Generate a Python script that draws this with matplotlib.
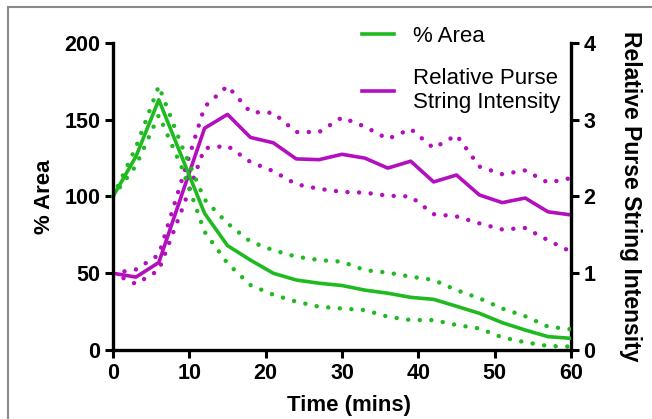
import matplotlib
matplotlib.use("Agg")
import matplotlib.pyplot as plt
from matplotlib.patches import Rectangle

# Time points (minutes)
time = [0, 3, 6, 9, 12, 15, 18, 21, 24, 27, 30, 33, 36, 39, 42, 45, 48, 51, 54, 57, 60]

# % Area: mean with upper / lower bounds
area_mean = [100, 126, 163, 126, 89, 68, 58.6, 50, 45.6, 43.5, 42, 39, 37, 34.3, 33, 28.5, 23.9, 17.8, 13, 8.7, 7.6]
area_upper = [100, 132, 172, 133, 98, 82.5, 70.6, 65, 60.8, 58.6, 57.5, 52, 50.4, 47.8, 45.6, 39, 33.7, 27, 22, 15.2, 13.5]
area_lower = [100, 120, 153, 119, 77, 56.5, 42.3, 36, 31.5, 28.2, 27, 26, 21.7, 19.5, 19.5, 16.3, 14, 8.2, 5, 2.6, 2.2]

# Relative purse string intensity: mean with upper / lower bounds
ps_mean = [1.0, 0.95, 1.14, 2.02, 2.89, 3.07, 2.77, 2.70, 2.49, 2.48, 2.55, 2.50, 2.37, 2.46, 2.19, 2.28, 2.02, 1.92, 1.98, 1.80, 1.76]
ps_upper = [1.0, 1.05, 1.24, 2.21, 3.17, 3.44, 3.10, 3.09, 2.84, 2.84, 3.03, 2.91, 2.75, 2.88, 2.63, 2.80, 2.39, 2.29, 2.34, 2.18, 2.24]
ps_lower = [1.0, 0.86, 1.04, 1.82, 2.63, 2.66, 2.45, 2.33, 2.16, 2.10, 2.06, 2.05, 2.01, 2.00, 1.77, 1.74, 1.65, 1.57, 1.59, 1.43, 1.28]

x_ticks = [0, 10, 20, 30, 40, 50, 60]
left_ticks = [0, 50, 100, 150, 200]
right_ticks = [0, 1, 2, 3, 4]

GREEN = "#1fba1f"
MAGENTA = "#b30fbf"

plt.rcParams["font.family"] = ["Liberation Sans", "DejaVu Sans"]
plt.rcParams["font.weight"] = "bold"

fig = plt.figure(figsize=(6.52, 4.19), dpi=100)
fig.patch.set_facecolor("white")

# light grey frame around the panel
fig.patches.append(Rectangle((8 / 652, -0.1), 1.2, (419 - 7) / 419 + 0.1,
                             transform=fig.transFigure, fill=False,
                             edgecolor="#8a8a8a", linewidth=1.5, zorder=0))

ax = fig.add_axes([113 / 652, (419 - 350) / 419, 458 / 652, 307 / 419])
ax2 = ax.twinx()

dot_style = dict(linestyle=(0, (0.01, 2.6)), dash_capstyle="round", linewidth=3.2)

ax2.plot(time, ps_upper, color=MAGENTA, **dot_style)
ax2.plot(time, ps_lower, color=MAGENTA, **dot_style)
ps_line, = ax2.plot(time, ps_mean, color=MAGENTA, linewidth=2.6)

ax.set_zorder(ax2.get_zorder() + 1)
ax.patch.set_visible(False)
ax.plot(time, area_upper, color=GREEN, **dot_style)
ax.plot(time, area_lower, color=GREEN, **dot_style, clip_on=False)
area_line, = ax.plot(time, area_mean, color=GREEN, linewidth=2.6)

ax.set_xlim(0, 60)
ax.set_ylim(0, 200)
ax2.set_ylim(0, 4)
ax.set_xticks(x_ticks)
ax.set_yticks(left_ticks)
ax2.set_yticks(right_ticks)

for a in (ax, ax2):
    a.spines["top"].set_visible(False)
    for s in a.spines.values():
        s.set_linewidth(2.4)
ax.spines["right"].set_visible(False)
ax2.spines["left"].set_visible(False)
ax2.spines["bottom"].set_visible(False)

ax.tick_params(axis="both", direction="out", length=6, width=2.2, pad=3, labelsize=15.5)
ax2.tick_params(axis="y", direction="out", length=6, width=2.2, pad=3, labelsize=15.5)

ax.set_xlabel("Time (mins)", fontsize=16, fontweight="bold")
ax.xaxis.set_label_coords(0.515, -0.148)
ax.set_ylabel("% Area", fontsize=16, fontweight="bold", labelpad=7)
ax2.set_ylabel("Relative Purse String Intensity", fontsize=16.5, fontweight="bold",
               rotation=270, va="center")
ax2.yaxis.set_label_coords(1.13, 0.5)

leg = fig.legend([area_line, ps_line], ["% Area", "Relative Purse\nString Intensity"],
                 loc="upper left", bbox_to_anchor=(342 / 652, (419 - 6) / 419),
                 frameon=False, handlelength=1.45, handletextpad=0.85,
                 labelspacing=0.95, prop={"size": 16, "weight": "normal"})

fig.savefig("out.png", dpi=100)
